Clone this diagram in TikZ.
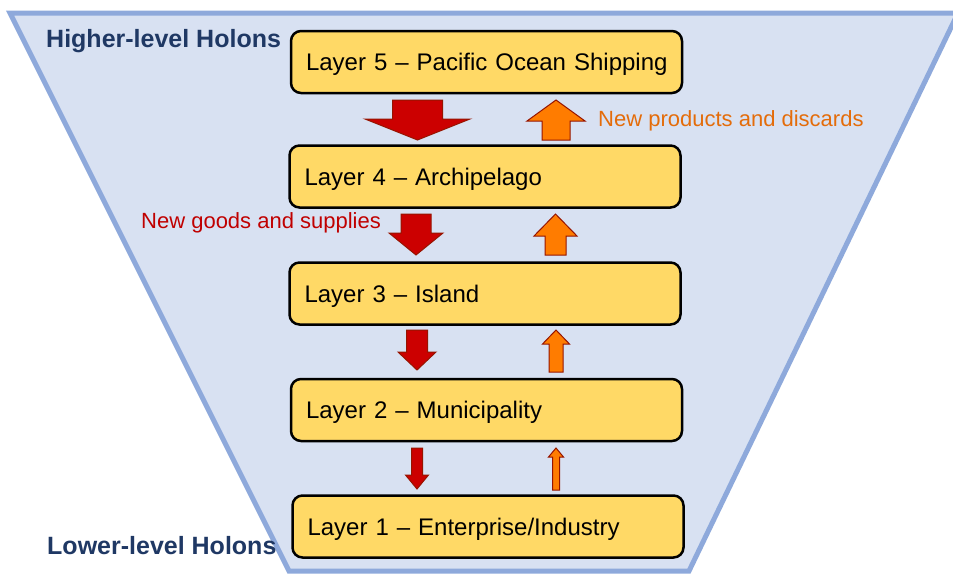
\documentclass[tikz,border=0pt]{standalone}
\usepackage{fontspec}
\setmainfont{Liberation Sans}
\usepackage{tikz}

\definecolor{funnelfill}{RGB}{216,225,242}
\definecolor{funneledge}{RGB}{142,169,219}
\definecolor{layeryellow}{RGB}{255,217,102}
\definecolor{holonblue}{RGB}{31,56,100}
\definecolor{goodsred}{RGB}{192,0,0}
\definecolor{discardorange}{RGB}{228,108,10}
\definecolor{downred}{RGB}{204,0,0}
\definecolor{uporange}{RGB}{255,124,0}
\definecolor{arrowedge}{RGB}{150,20,0}

\tikzset{
  layer/.style={draw=black, line width=2.5pt, fill=layeryellow, rounded corners=10pt,
    minimum width=391pt, minimum height=62pt, text width=361pt, inner xsep=15pt,
    outer sep=0pt, align=left, text height=17pt, text depth=0pt,
    font=\fontsize{24}{28}\selectfont},
  holon/.style={anchor=base west, inner sep=0pt, text=holonblue,
    font=\fontsize{25}{30}\selectfont\bfseries},
  flowlabel/.style={anchor=base west, inner sep=0pt, font=\fontsize{22}{26}\selectfont},
  downarrow/.style={fill=downred, draw=arrowedge, line width=1pt},
  uparrow/.style={fill=uporange, draw=arrowedge, line width=1pt},
}

% block arrows: x, top, tip, shaft half width, head half width, head length
\newcommand{\downblock}[6]{\draw[downarrow] ({#1-#4},#2) -- ({#1+#4},#2) -- ({#1+#4},{#3-#6}) -- ({#1+#5},{#3-#6}) -- (#1,#3) -- ({#1-#5},{#3-#6}) -- ({#1-#4},{#3-#6}) -- cycle;}
% x, bottom, tip, shaft half width, head half width, head length
\newcommand{\upblock}[6]{\draw[uparrow] ({#1-#4},#2) -- ({#1+#4},#2) -- ({#1+#4},{#3+#6}) -- ({#1+#5},{#3+#6}) -- (#1,#3) -- ({#1-#5},{#3+#6}) -- ({#1-#4},{#3+#6}) -- cycle;}

\begin{document}
\begin{tikzpicture}[x=1pt, y=-1pt]
        \useasboundingbox (0,0) rectangle (953,574);
        \draw [fill=funnelfill, draw=funneledge, line width=5pt] (10,13) -- (958,13) -- (689,571) -- (289,571) -- cycle;
        \node [layer] (5) at (486.5,62) {\mbox{Layer 5 -- Pacific Ocean Shipping}};
        \node [layer] (4) at (485,176.5) {\mbox{Layer 4 -- Archipelago}};
        \node [layer] (3) at (485,293.5) {\mbox{Layer 3 -- Island}};
        \node [layer] (2) at (486.5,410) {\mbox{Layer 2 -- Municipality}};
        \node [layer] (1) at (488,526.5) {\mbox{Layer 1 -- Enterprise/Industry}};
        \node [holon] (6) at (46,47) {Higher-level Holons};
        \node [holon] (7) at (47,554) {Lower-level Holons};
        \node [flowlabel, text=discardorange] (8) at (598,126) {New products and discards};
        \node [flowlabel, text=goodsred] (9) at (141,228) {New goods and supplies};
        \downblock{417.5}{100}{140}{25}{52.5}{21}
        \downblock{416}{214}{255}{15}{27}{22}
        \downblock{417}{330}{370}{10.5}{19}{18}
        \downblock{417}{448}{489}{5.5}{11.5}{14}
        \upblock{556}{140}{100}{14}{29}{21}
        \upblock{555.5}{255}{214}{10.5}{21.5}{22}
        \upblock{556}{372}{330}{7}{13.5}{14}
        \upblock{556}{490}{448}{3.5}{7.5}{9}
      \end{tikzpicture}
\end{document}
